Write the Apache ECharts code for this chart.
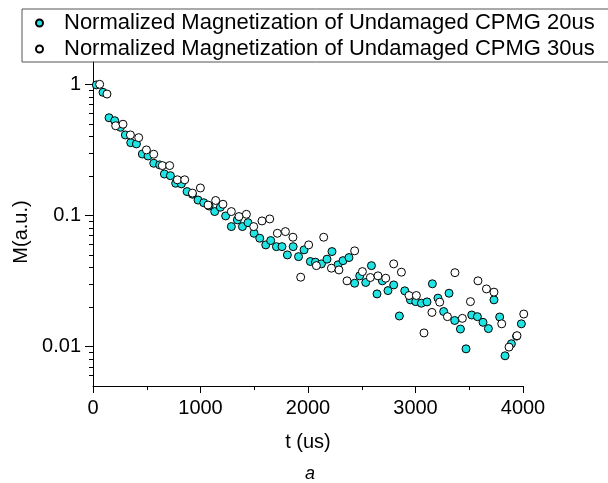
<!DOCTYPE html>
<html>
<head>
<meta charset="utf-8">
<script src="https://cdn.jsdelivr.net/npm/echarts@6/dist/echarts.min.js"></script>
<style>html,body{margin:0;padding:0;background:#fff}#c{width:608px;height:483px}</style>
</head>
<body>
<div id="c"></div>
<script>
var seriesNames = ['Normalized Magnetization of Undamaged CPMG 20us', 'Normalized Magnetization of Undamaged CPMG 30us'];
var t20 = [31,93,149,202,255,301,351,404,459,512,565,620,664,720,769,822,875,925,977,1030,1080,1132,1185,1234,1287,1343,1390,1442,1498,1551,1607,1653,1706,1758,1808,1862,1912,1963,2022,2069,2125,2177,2223,2279,2326,2381,2434,2481,2537,2590,2642,2692,2744,2797,2850,2900,2953,3002,3055,3107,3157,3209,3262,3312,3365,3418,3470,3523,3576,3628,3678,3730,3783,3833,3892,3940,3985];
var m20 = [0.99,0.869,0.556,0.528,0.47,0.411,0.359,0.351,0.294,0.284,0.25,0.243,0.207,0.201,0.176,0.174,0.152,0.145,0.131,0.125,0.118,0.107,0.1155,0.0991,0.0822,0.0925,0.0822,0.0881,0.0731,0.067,0.0596,0.0643,0.0578,0.0578,0.05,0.0578,0.0485,0.0546,0.0445,0.044,0.0427,0.0464,0.053,0.042,0.0452,0.0477,0.0304,0.0346,0.0308,0.0414,0.0252,0.0317,0.0267,0.0295,0.0171,0.0266,0.0227,0.022,0.0214,0.0219,0.0301,0.0234,0.0185,0.0255,0.0158,0.0136,0.0096,0.0174,0.0169,0.0153,0.0137,0.0227,0.0168,0.0085,0.0105,0.012,0.0149];
var t30 = [62,130,211,279,348,425,497,565,645,713,785,853,925,999,1070,1141,1209,1287,1358,1427,1495,1572,1644,1715,1790,1860,1932,2006,2078,2146,2218,2288,2363,2434,2506,2580,2651,2723,2797,2869,2940,3008,3079,3153,3225,3297,3367,3436,3511,3581,3660,3730,3802,3870,3944,4007];
var m30 = [1.0,0.843,0.483,0.496,0.411,0.392,0.316,0.293,0.24,0.24,0.187,0.187,0.148,0.162,0.12,0.13,0.1217,0.107,0.098,0.102,0.0822,0.0908,0.094,0.0731,0.0753,0.0682,0.0338,0.0596,0.0414,0.0682,0.0396,0.0384,0.0317,0.0537,0.0373,0.0336,0.0346,0.0332,0.0427,0.0369,0.0245,0.0245,0.0127,0.0182,0.0218,0.0169,0.0366,0.0164,0.022,0.0317,0.0275,0.026,0.0149,0.0099,0.0121,0.0177];
var xTicks = [0, 1000, 2000, 3000, 4000];
var yMajor = [0.01, 0.1, 1];
var yMinor = [0.006,0.007,0.008,0.009,0.02,0.03,0.04,0.05,0.06,0.07,0.08,0.09,0.2,0.3,0.4,0.5,0.6,0.7,0.8,0.9];
var yMin = 0.005, yMax = 1.48;
var xName = 't (us)', yName = 'M(a.u.)', caption = 'a';

function pairs(t, m) { return t.map(function (v, i) { return [v, m[i]]; }); }
var FONT = 'Liberation Sans, Arial, sans-serif';
var chart = echarts.init(document.getElementById('c'), null, {renderer: 'canvas'});
var tickAxis = function (vals, len) {
  return {
    type: 'log', logBase: 10, position: 'left', min: yMin, max: yMax,
    axisLine: {show: true, lineStyle: {color: 'rgba(0,0,0,0)'}},
    axisLabel: {show: false}, splitLine: {show: false}, minorTick: {show: false},
    axisTick: {show: true, length: len, customValues: vals, lineStyle: {color: '#000', width: 1}}
  };
};
chart.setOption({
  animation: false,
  backgroundColor: '#fff',
  title: {text: caption, left: 300, top: 460, textStyle: {fontFamily: FONT, fontStyle: 'italic', fontWeight: 'normal', fontSize: 18, color: '#000'}},
  legend: {
    orient: 'vertical', left: 22, top: 9,
    padding: [2, 20, 1, 13], itemGap: 2, itemWidth: 7, itemHeight: 7,
    borderColor: '#555', borderWidth: 1,
    textStyle: {fontFamily: FONT, fontSize: 22, color: '#000', lineHeight: 24, padding: [0, 0, 0, 16]},
    data: seriesNames
  },
  grid: {left: 93, right: 85, top: 62, bottom: 97},
  xAxis: {
    type: 'value', min: 0, max: 4000, interval: 1000,
    name: xName, nameLocation: 'middle', nameGap: 46,
    nameTextStyle: {fontFamily: FONT, fontSize: 20, color: '#000'},
    axisLine: {lineStyle: {color: '#000', width: 1}},
    axisTick: {length: 7, lineStyle: {color: '#000'}},
    minorTick: {show: true, splitNumber: 2, length: 4, lineStyle: {color: '#000'}},
    axisLabel: {fontFamily: FONT, fontSize: 20, color: '#000', margin: 12, customValues: xTicks,
      formatter: function (v) { return String(v); }},
    splitLine: {show: false}
  },
  yAxis: [{
    type: 'log', logBase: 10, min: yMin, max: yMax,
    name: yName, nameLocation: 'middle', nameGap: 58, nameRotate: 90,
    nameTextStyle: {fontFamily: FONT, fontSize: 20, color: '#000', padding: [0, 16, 0, 0]},
    axisLine: {show: true, lineStyle: {color: '#000', width: 1}},
    axisTick: {show: false},
    axisLabel: {fontFamily: FONT, fontSize: 20, color: '#000', margin: 12, showMinLabel: false, showMaxLabel: false,
      formatter: function (v) { return String(+(+v).toPrecision(3)); }},
    splitLine: {show: false}
  }, tickAxis(yMajor, 8), tickAxis(yMinor, 4)],
  series: [{
    name: seriesNames[0], type: 'scatter', yAxisIndex: 0, clip: false,
    symbol: 'circle', symbolSize: 8,
    itemStyle: {color: '#20e3e3', borderColor: '#000', borderWidth: 1, opacity: 1},
    data: pairs(t20, m20)
  }, {
    name: seriesNames[1], type: 'scatter', yAxisIndex: 0, clip: false,
    symbol: 'circle', symbolSize: 8,
    itemStyle: {color: '#fff', borderColor: '#000', borderWidth: 1, opacity: 1},
    data: pairs(t30, m30)
  }]
});
</script>
</body>
</html>
